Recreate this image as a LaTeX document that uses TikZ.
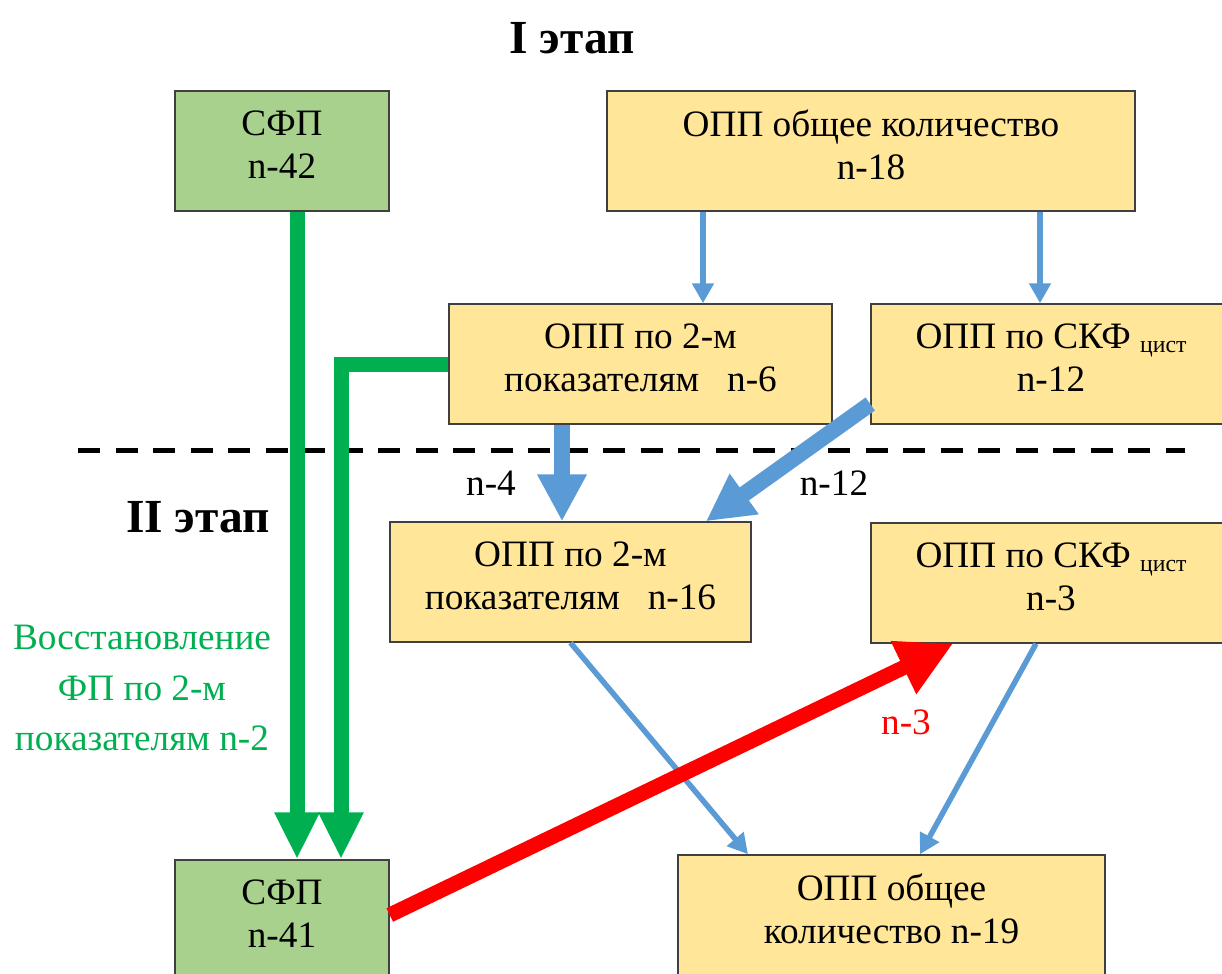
\documentclass[tikz,border=0pt]{standalone}
\usepackage{fontspec}
\setmainfont{Liberation Serif}
\usetikzlibrary{arrows.meta}

\definecolor{boxgreen}{HTML}{A9D18E}
\definecolor{boxyellow}{HTML}{FFE699}
\definecolor{arrowblue}{HTML}{5B9BD5}
\definecolor{arrowgreen}{HTML}{00B050}

\newcommand{\cistidx}{\raisebox{-0.8mm}{\fontsize{13.5}{13.5}\selectfont цист}}

\tikzset{
  box/.style={draw={rgb:black,3;white,1}, line width=0.3mm, align=center,
    minimum height=24mm, inner sep=0pt, text depth=2.4mm, font=\fontsize{21.2}{24.5}\selectfont},
  greenbox/.style={box, fill=boxgreen, minimum width=42.8mm},
  yellowbox/.style={box, fill=boxyellow},
  stagelabel/.style={font=\bfseries\fontsize{27}{30}\selectfont},
  lbl/.style={font=\fontsize{21.2}{24.5}\selectfont},
  thinarrow/.style={draw=arrowblue, line width=1.1mm, -{Triangle[width=4.2mm,length=4mm]}},
  thickarrow/.style={draw=arrowblue, line width=3.2mm, -{Triangle[width=9.4mm,length=9.4mm]}},
  greenarrow/.style={draw=arrowgreen, line width=3mm, -{Triangle[width=8.4mm,length=9.4mm]}},
  redarrow/.style={draw=red, line width=3mm, -{Triangle[width=11mm,length=11mm]}},
}

\begin{document}
\begin{tikzpicture}[x=0.2mm, y=-0.2mm]
        \useasboundingbox (0,0) rectangle (1222,974);
        \clip (0,0) rectangle (1222,974);

        % I этап
        \node[stagelabel] (stage1) at (572,38) {I этап};

        \node[greenbox] (sfp42) at (282,151) {СФП\\n-42};
        \node[yellowbox, minimum width=105.6mm] (opp18) at (871,151) {ОПП общее количество\\n-18};
        \node[yellowbox, minimum width=76.6mm] (opp6) at (640.5,364) {ОПП по 2-м\\показателям\enspace\ n-6};
        \node[yellowbox, minimum width=72mm] (skf12) at (1051,364) {ОПП по СКФ \cistidx\\n-12};

        \draw[line width=1mm, dash pattern=on 4.4mm off 3.1mm] (78,450) -- (1185,450);

        % II этап
        \node[stagelabel] (stage2) at (198,517) {II этап};

        \node[yellowbox, minimum width=72.2mm] (opp16) at (570.5,582) {ОПП по 2-м\\показателям\enspace\ n-16};
        \node[yellowbox, minimum width=72mm] (skf3) at (1051,583) {ОПП по СКФ \cistidx\\n-3};
        \node[greenbox] (sfp41) at (282,920) {СФП\\n-41};
        \node[yellowbox, minimum width=85.4mm] (opp19) at (891.5,915) {ОПП общее\\количество n-19};

        \node[lbl, text=arrowgreen, align=center, font=\fontsize{21.2}{28.5}\selectfont] (restore) at (142,688) {Восстановление\\ФП по 2-м\\показателям n-2};

        \node[lbl] (n4) at (491,483) {n-4};
        \node[lbl] (n12) at (834,483) {n-12};
        \node[lbl, text=red] (n3) at (906,722) {n-3};

        \draw[thinarrow] ([xshift=-33.6mm]opp18.south) -- ([xshift=-33.6mm]opp18.south |- opp6.north);
        \draw[thinarrow] ([xshift=33.8mm]opp18.south) -- ([xshift=33.8mm]opp18.south |- skf12.north);

        \draw[thickarrow] ([xshift=-15.7mm]opp6.south) -- ([xshift=-15.7mm]opp6.south |- opp16.north);
        \draw[thickarrow] ([yshift=-8mm]skf12.west) -- ([xshift=27.1mm]opp16.north);

        \draw[thinarrow] (opp16.south) -- ([xshift=-28.7mm]opp19.north);
        \draw[thinarrow] ([xshift=-3mm]skf3.south) -- ([xshift=5.7mm]opp19.north);

        \draw[greenarrow] ([xshift=3mm]sfp42.south) -- ([xshift=3mm]sfp41.north);
        \draw[greenarrow] (opp6.west) -| ([xshift=11.8mm]sfp41.north);

        \draw[redarrow] ([yshift=1mm]sfp41.east) -- ([xshift=-19.6mm]skf3.south);
    \end{tikzpicture}
\end{document}
